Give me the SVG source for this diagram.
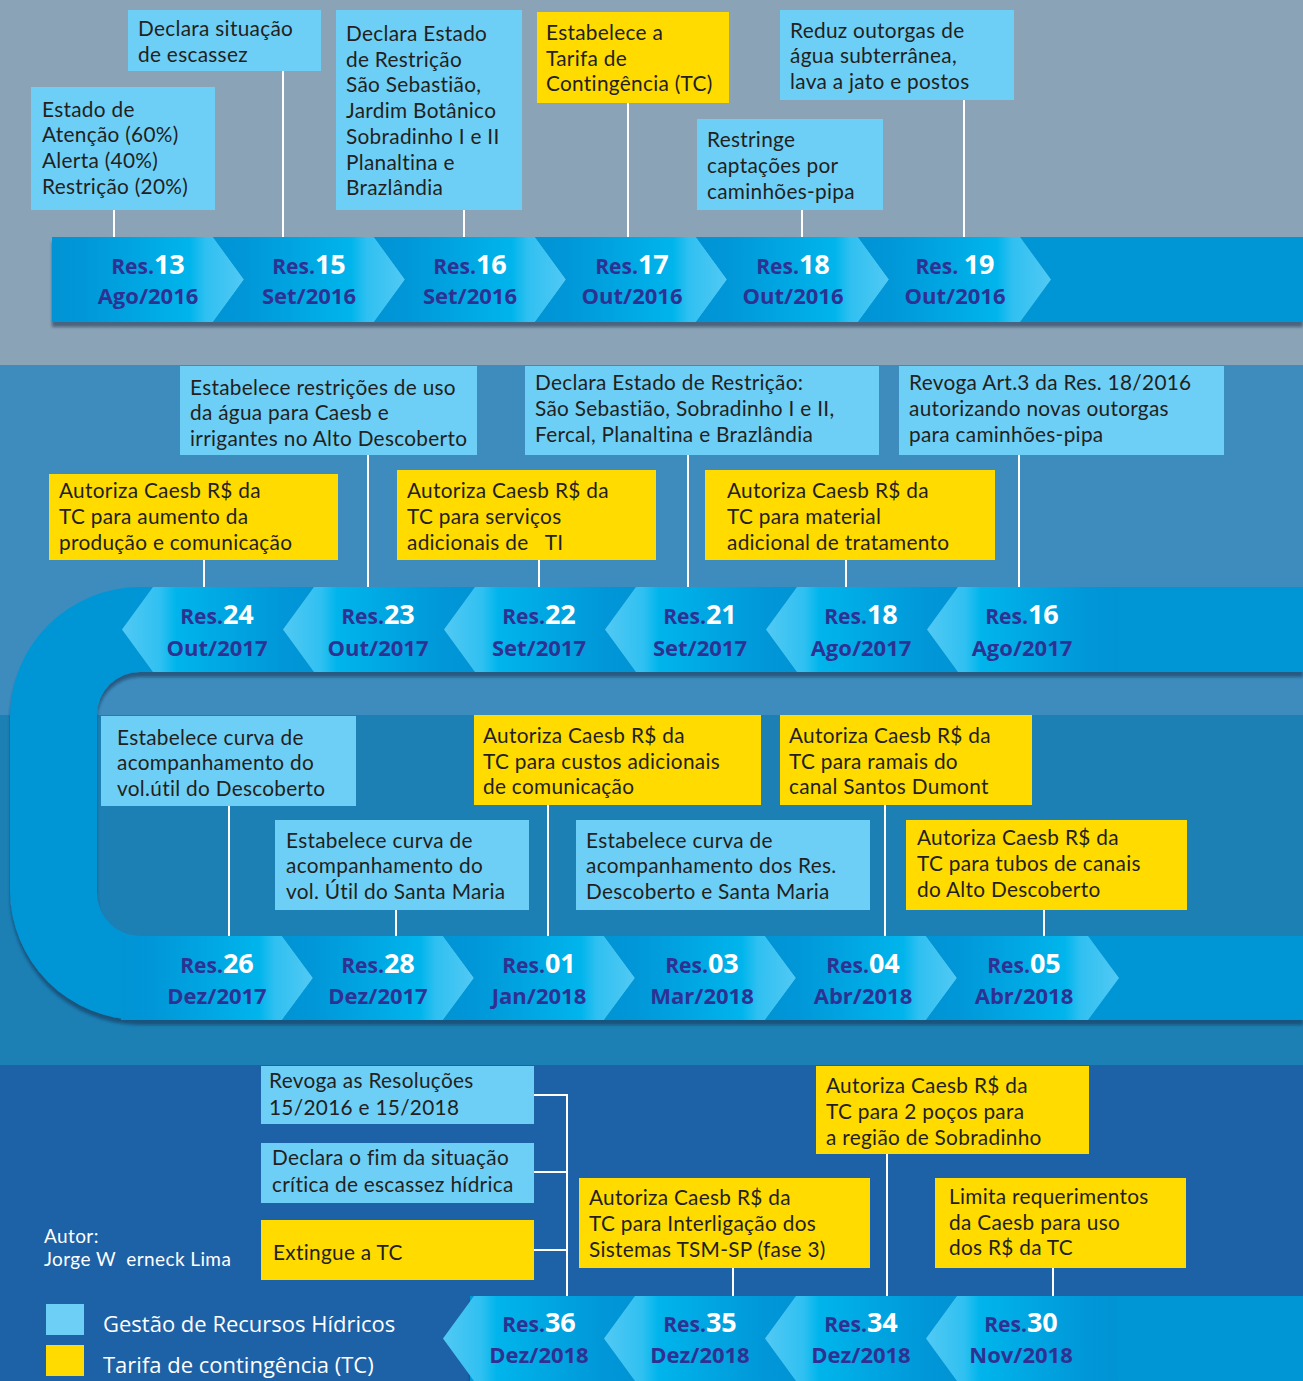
<svg xmlns="http://www.w3.org/2000/svg" width="1303" height="1381" viewBox="0 0 1303 1381">
<defs>
<linearGradient id="gR" x1="0" y1="0" x2="1" y2="0">
<stop offset="0" stop-color="#0094d5"/><stop offset="0.15" stop-color="#0096d7"/><stop offset="0.5" stop-color="#00a9e4"/><stop offset="0.72" stop-color="#00b5ec"/><stop offset="0.8" stop-color="#2fc0f1"/><stop offset="1" stop-color="#52c9f4"/>
</linearGradient>
<linearGradient id="gL" x1="1" y1="0" x2="0" y2="0">
<stop offset="0" stop-color="#0094d5"/><stop offset="0.15" stop-color="#0096d7"/><stop offset="0.5" stop-color="#00a9e4"/><stop offset="0.72" stop-color="#00b5ec"/><stop offset="0.8" stop-color="#2fc0f1"/><stop offset="1" stop-color="#52c9f4"/>
</linearGradient>
<filter id="sh" x="-5%" y="-20%" width="115%" height="160%">
<feDropShadow dx="0" dy="5" stdDeviation="1.5" flood-color="#14324f" flood-opacity="0.55"/>
</filter>
</defs>
<style>
.bx{fill:#6dcff6}
.ye{fill:#ffdb00}
.t{font-family:Lato,"Open Sans",sans-serif;font-size:20.8px;letter-spacing:0.3px;fill:#231f20;white-space:pre}
.rs{font-family:"Open Sans","Noto Sans",sans-serif;font-weight:700;text-anchor:middle;fill:#2e3192}
.r1{font-size:21px}
.n{font-size:27px;fill:#ffffff}
.d{font-size:22px}
.c{stroke:#ffffff;stroke-width:2;fill:none}
.band{fill:#0096d6}
.w{font-family:"Open Sans","Noto Sans",sans-serif;fill:#ffffff;white-space:pre}
.a{font-family:Lato,"Open Sans",sans-serif;font-size:19px;letter-spacing:0.4px;fill:#ffffff;white-space:pre}
</style>
<!-- backgrounds -->
<rect x="0" y="0" width="1303" height="365" fill="#8ba3b7"/>
<rect x="0" y="365" width="1303" height="350" fill="#3e8cbe"/>
<rect x="0" y="715" width="1303" height="350" fill="#1c80b5"/>
<rect x="0" y="1065" width="1303" height="316" fill="#1d61a6"/>

<!-- bands -->
<g id="band1" filter="url(#sh)">
<rect class="band" x="52" y="237" width="1251" height="85"/>
</g>
<g id="band23" filter="url(#sh)">
<path class="band" d="M1303 587 H140 A130 130 0 0 0 10 717 V890 A130 130 0 0 0 140 1020 H1303 V936 H140 A43 43 0 0 1 97 893 V715 A43 43 0 0 1 140 672 H1303 Z"/>
</g>
<g id="band4" filter="url(#sh)">
<rect class="band" x="470" y="1296" width="833" height="85"/>
</g>

<!-- connectors -->
<g id="connectors">
<line class="c" x1="114" y1="210" x2="114" y2="237"/>
<line class="c" x1="283" y1="71" x2="283" y2="237"/>
<line class="c" x1="464" y1="210" x2="464" y2="237"/>
<line class="c" x1="628" y1="103" x2="628" y2="237"/>
<line class="c" x1="802" y1="210" x2="802" y2="237"/>
<line class="c" x1="964" y1="100" x2="964" y2="237"/>
<line class="c" x1="368" y1="455" x2="368" y2="587"/>
<line class="c" x1="688" y1="455" x2="688" y2="587"/>
<line class="c" x1="1019" y1="455" x2="1019" y2="587"/>
<line class="c" x1="204" y1="560" x2="204" y2="587"/>
<line class="c" x1="539" y1="560" x2="539" y2="587"/>
<line class="c" x1="846" y1="560" x2="846" y2="587"/>
<line class="c" x1="229" y1="806" x2="229" y2="936"/>
<line class="c" x1="396" y1="910" x2="396" y2="936"/>
<line class="c" x1="548" y1="805" x2="548" y2="936"/>
<line class="c" x1="885" y1="805" x2="885" y2="936"/>
<line class="c" x1="1044" y1="910" x2="1044" y2="936"/>
<polyline class="c" points="534,1095 567,1095 567,1296"/>
<line class="c" x1="534" y1="1172" x2="567" y2="1172"/>
<line class="c" x1="534" y1="1250" x2="567" y2="1250"/>
<line class="c" x1="733" y1="1268" x2="733" y2="1296"/>
<line class="c" x1="887" y1="1154" x2="887" y2="1296"/>
<line class="c" x1="1053" y1="1268" x2="1053" y2="1296"/>
</g>

<!-- Band 1 chevrons -->
<g id="res13-2016"><polygon points="52,237 213,237 244,279.5 213,322 52,322" fill="url(#gR)"/><text class="rs r1" x="148" y="274">Res.<tspan class="n">13</tspan></text><text class="rs d" x="148" y="304">Ago/2016</text></g>
<g id="res15-2016"><polygon points="213,237 374,237 405,279.5 374,322 213,322 244,279.5" fill="url(#gR)"/><text class="rs r1" x="309" y="274">Res.<tspan class="n">15</tspan></text><text class="rs d" x="309" y="304">Set/2016</text></g>
<g id="res16-2016"><polygon points="374,237 535,237 566,279.5 535,322 374,322 405,279.5" fill="url(#gR)"/><text class="rs r1" x="470" y="274">Res.<tspan class="n">16</tspan></text><text class="rs d" x="470" y="304">Set/2016</text></g>
<g id="res17-2016"><polygon points="535,237 696,237 727,279.5 696,322 535,322 566,279.5" fill="url(#gR)"/><text class="rs r1" x="632" y="274">Res.<tspan class="n">17</tspan></text><text class="rs d" x="632" y="304">Out/2016</text></g>
<g id="res18-2016"><polygon points="696,237 858,237 889,279.5 858,322 696,322 727,279.5" fill="url(#gR)"/><text class="rs r1" x="793" y="274">Res.<tspan class="n">18</tspan></text><text class="rs d" x="793" y="304">Out/2016</text></g>
<g id="res19-2016"><polygon points="858,237 1020,237 1051,279.5 1020,322 858,322 889,279.5" fill="url(#gR)"/><text class="rs r1" x="955" y="274">Res. <tspan class="n">19</tspan></text><text class="rs d" x="955" y="304">Out/2016</text></g>

<!-- Band 2 chevrons (left-pointing) -->
<g id="res24-2017"><polygon points="122,629.5 153,587 314,587 283,629.5 314,672 153,672" fill="url(#gL)"/><text class="rs r1" x="217" y="624">Res.<tspan class="n">24</tspan></text><text class="rs d" x="217" y="656">Out/2017</text></g>
<g id="res23-2017"><polygon points="283,629.5 314,587 475,587 444,629.5 475,672 314,672" fill="url(#gL)"/><text class="rs r1" x="378" y="624">Res.<tspan class="n">23</tspan></text><text class="rs d" x="378" y="656">Out/2017</text></g>
<g id="res22-2017"><polygon points="444,629.5 475,587 636,587 605,629.5 636,672 475,672" fill="url(#gL)"/><text class="rs r1" x="539" y="624">Res.<tspan class="n">22</tspan></text><text class="rs d" x="539" y="656">Set/2017</text></g>
<g id="res21-2017"><polygon points="605,629.5 636,587 797,587 766,629.5 797,672 636,672" fill="url(#gL)"/><text class="rs r1" x="700" y="624">Res.<tspan class="n">21</tspan></text><text class="rs d" x="700" y="656">Set/2017</text></g>
<g id="res18-2017"><polygon points="766,629.5 797,587 958,587 927,629.5 958,672 797,672" fill="url(#gL)"/><text class="rs r1" x="861" y="624">Res.<tspan class="n">18</tspan></text><text class="rs d" x="861" y="656">Ago/2017</text></g>
<g id="res16-2017"><polygon points="927,629.5 958,587 1119,587 1119,672 958,672" fill="url(#gL)"/><text class="rs r1" x="1022" y="624">Res.<tspan class="n">16</tspan></text><text class="rs d" x="1022" y="656">Ago/2017</text></g>

<!-- Band 3 chevrons (right-pointing) -->
<g id="res26-2017"><polygon points="121,936 282,936 313,978 282,1020 121,1020" fill="url(#gR)"/><text class="rs r1" x="217" y="973">Res.<tspan class="n">26</tspan></text><text class="rs d" x="217" y="1004">Dez/2017</text></g>
<g id="res28-2017"><polygon points="282,936 443,936 474,978 443,1020 282,1020 313,978" fill="url(#gR)"/><text class="rs r1" x="378" y="973">Res.<tspan class="n">28</tspan></text><text class="rs d" x="378" y="1004">Dez/2017</text></g>
<g id="res01-2018"><polygon points="443,936 604,936 635,978 604,1020 443,1020 474,978" fill="url(#gR)"/><text class="rs r1" x="539" y="973">Res.<tspan class="n">01</tspan></text><text class="rs d" x="539" y="1004">Jan/2018</text></g>
<g id="res03-2018"><polygon points="604,936 765,936 796,978 765,1020 604,1020 635,978" fill="url(#gR)"/><text class="rs r1" x="702" y="973">Res.<tspan class="n">03</tspan></text><text class="rs d" x="702" y="1004">Mar/2018</text></g>
<g id="res04-2018"><polygon points="765,936 926,936 957,978 926,1020 765,1020 796,978" fill="url(#gR)"/><text class="rs r1" x="863" y="973">Res.<tspan class="n">04</tspan></text><text class="rs d" x="863" y="1004">Abr/2018</text></g>
<g id="res05-2018"><polygon points="926,936 1088,936 1119,978 1088,1020 926,1020 957,978" fill="url(#gR)"/><text class="rs r1" x="1024" y="973">Res.<tspan class="n">05</tspan></text><text class="rs d" x="1024" y="1004">Abr/2018</text></g>

<!-- Band 4 chevrons (left-pointing) -->
<g id="res36-2018"><polygon points="443,1338.5 474,1296 635,1296 604,1338.5 635,1381 474,1381" fill="url(#gL)"/><text class="rs r1" x="539" y="1332">Res.<tspan class="n">36</tspan></text><text class="rs d" x="539" y="1363">Dez/2018</text></g>
<g id="res35-2018"><polygon points="604,1338.5 635,1296 796,1296 765,1338.5 796,1381 635,1381" fill="url(#gL)"/><text class="rs r1" x="700" y="1332">Res.<tspan class="n">35</tspan></text><text class="rs d" x="700" y="1363">Dez/2018</text></g>
<g id="res34-2018"><polygon points="765,1338.5 796,1296 957,1296 926,1338.5 957,1381 796,1381" fill="url(#gL)"/><text class="rs r1" x="861" y="1332">Res.<tspan class="n">34</tspan></text><text class="rs d" x="861" y="1363">Dez/2018</text></g>
<g id="res30-2018"><polygon points="926,1338.5 957,1296 1118,1296 1118,1381 957,1381" fill="url(#gL)"/><text class="rs r1" x="1021" y="1332">Res.<tspan class="n">30</tspan></text><text class="rs d" x="1021" y="1363">Nov/2018</text></g>

<!-- Band 1 boxes -->
<g id="n-estado"><rect class="bx" x="31" y="87" width="184" height="123"/><text class="t" x="42" y="117">Estado de</text><text class="t" x="42" y="142">Atenção (60%)</text><text class="t" x="42" y="168">Alerta (40%)</text><text class="t" x="42" y="194">Restrição (20%)</text></g>
<g id="n-escassez"><rect class="bx" x="128" y="10" width="193" height="61"/><text class="t" x="138" y="36">Declara situação</text><text class="t" x="138" y="62">de escassez</text></g>
<g id="n-restricao2016"><rect class="bx" x="336" y="10" width="186" height="200"/><text class="t" x="346" y="41">Declara Estado</text><text class="t" x="346" y="67">de Restrição</text><text class="t" x="346" y="92">São Sebastião,</text><text class="t" x="346" y="118">Jardim Botânico</text><text class="t" x="346" y="144">Sobradinho I e II</text><text class="t" x="346" y="170">Planaltina e</text><text class="t" x="346" y="195">Brazlândia</text></g>
<g id="n-tarifa"><rect class="ye" x="537" y="12" width="192" height="91"/><text class="t" x="546" y="40">Estabelece a</text><text class="t" x="546" y="66">Tarifa de</text><text class="t" x="546" y="91">Contingência (TC)</text></g>
<g id="n-restringe"><rect class="bx" x="697" y="119" width="186" height="91"/><text class="t" x="707" y="147">Restringe</text><text class="t" x="707" y="173">captações por</text><text class="t" x="707" y="199">caminhões-pipa</text></g>
<g id="n-reduz"><rect class="bx" x="780" y="10" width="234" height="90"/><text class="t" x="790" y="38">Reduz outorgas de</text><text class="t" x="790" y="63">água subterrânea,</text><text class="t" x="790" y="89">lava a jato e postos</text></g>

<!-- Band 2 boxes -->
<g id="n-restricoes-uso"><rect class="bx" x="180" y="366" width="297" height="89"/><text class="t" x="190" y="395">Estabelece restrições de uso</text><text class="t" x="190" y="420">da água para Caesb e</text><text class="t" x="190" y="446">irrigantes no Alto Descoberto</text></g>
<g id="n-restricao2017"><rect class="bx" x="525" y="366" width="354" height="89"/><text class="t" x="535" y="390">Declara Estado de Restrição:</text><text class="t" x="535" y="416">São Sebastião, Sobradinho I e II,</text><text class="t" x="535" y="442">Fercal, Planaltina e Brazlândia</text></g>
<g id="n-revoga-art3"><rect class="bx" x="899" y="366" width="325" height="89"/><text class="t" x="909" y="390">Revoga Art.3 da Res. 18/2016</text><text class="t" x="909" y="416">autorizando novas outorgas</text><text class="t" x="909" y="442">para caminhões-pipa</text></g>
<g id="n-producao"><rect class="ye" x="49" y="474" width="289" height="86"/><text class="t" x="59" y="498">Autoriza Caesb R$ da</text><text class="t" x="59" y="524">TC para aumento da</text><text class="t" x="59" y="550">produção e comunicação</text></g>
<g id="n-servicos-ti"><rect class="ye" x="397" y="470" width="259" height="90"/><text class="t" x="407" y="498">Autoriza Caesb R$ da</text><text class="t" x="407" y="524">TC para serviços</text><text class="t" x="407" y="550">adicionais de   TI</text></g>
<g id="n-material"><rect class="ye" x="705" y="470" width="290" height="90"/><text class="t" x="727" y="498">Autoriza Caesb R$ da</text><text class="t" x="727" y="524">TC para material</text><text class="t" x="727" y="550">adicional de tratamento</text></g>

<!-- Band 3 boxes -->
<g id="n-curva-descoberto"><rect class="bx" x="101" y="716" width="255" height="90"/><text class="t" x="117" y="745">Estabelece curva de</text><text class="t" x="117" y="770">acompanhamento do</text><text class="t" x="117" y="796">vol.útil do Descoberto</text></g>
<g id="n-curva-santamaria"><rect class="bx" x="275" y="820" width="254" height="90"/><text class="t" x="286" y="848">Estabelece curva de</text><text class="t" x="286" y="873">acompanhamento do</text><text class="t" x="286" y="899">vol. Útil do Santa Maria</text></g>
<g id="n-comunicacao"><rect class="ye" x="474" y="715" width="287" height="90"/><text class="t" x="483" y="743">Autoriza Caesb R$ da</text><text class="t" x="483" y="769">TC para custos adicionais</text><text class="t" x="483" y="794">de comunicação</text></g>
<g id="n-curva-res"><rect class="bx" x="576" y="820" width="294" height="90"/><text class="t" x="586" y="848">Estabelece curva de</text><text class="t" x="586" y="873">acompanhamento dos Res.</text><text class="t" x="586" y="899">Descoberto e Santa Maria</text></g>
<g id="n-ramais"><rect class="ye" x="780" y="715" width="252" height="90"/><text class="t" x="789" y="743">Autoriza Caesb R$ da</text><text class="t" x="789" y="769">TC para ramais do</text><text class="t" x="789" y="794">canal Santos Dumont</text></g>
<g id="n-tubos"><rect class="ye" x="906" y="820" width="281" height="90"/><text class="t" x="917" y="845">Autoriza Caesb R$ da</text><text class="t" x="917" y="871">TC para tubos de canais</text><text class="t" x="917" y="897">do Alto Descoberto</text></g>

<!-- Band 4 boxes -->
<g id="n-revoga-resolucoes"><rect class="bx" x="261" y="1066" width="273" height="58"/><text class="t" x="269" y="1088">Revoga as Resoluções</text><text class="t" x="269" y="1115">15/2016 e 15/2018</text></g>
<g id="n-fim-escassez"><rect class="bx" x="261" y="1143" width="273" height="60"/><text class="t" x="272" y="1165">Declara o fim da situação</text><text class="t" x="272" y="1192">crítica de escassez hídrica</text></g>
<g id="n-extingue"><rect class="ye" x="261" y="1220" width="273" height="60"/><text class="t" x="273" y="1260">Extingue a TC</text></g>
<g id="n-interligacao"><rect class="ye" x="579" y="1178" width="291" height="90"/><text class="t" x="589" y="1205">Autoriza Caesb R$ da</text><text class="t" x="589" y="1231">TC para Interligação dos</text><text class="t" x="589" y="1257">Sistemas TSM-SP (fase 3)</text></g>
<g id="n-pocos"><rect class="ye" x="816" y="1066" width="273" height="88"/><text class="t" x="826" y="1093">Autoriza Caesb R$ da</text><text class="t" x="826" y="1119">TC para 2 poços para</text><text class="t" x="826" y="1145">a região de Sobradinho</text></g>
<g id="n-limita"><rect class="ye" x="935" y="1178" width="251" height="90"/><text class="t" x="949" y="1204">Limita requerimentos</text><text class="t" x="949" y="1230">da Caesb para uso</text><text class="t" x="949" y="1255">dos R$ da TC</text></g>

<!-- author and legend -->
<g id="author"><text class="a" x="44" y="1243">Autor:</text><text class="a" x="44" y="1266">Jorge W  erneck Lima</text></g>
<g id="legend">
<rect class="bx" x="46" y="1304" width="38" height="31"/><text class="w" x="103" y="1332" font-size="22">Gestão de Recursos Hídricos</text>
<rect class="ye" x="46" y="1345" width="38" height="31"/><text class="w" x="103" y="1373" font-size="22">Tarifa de contingência (TC)</text>
</g>
</svg>
